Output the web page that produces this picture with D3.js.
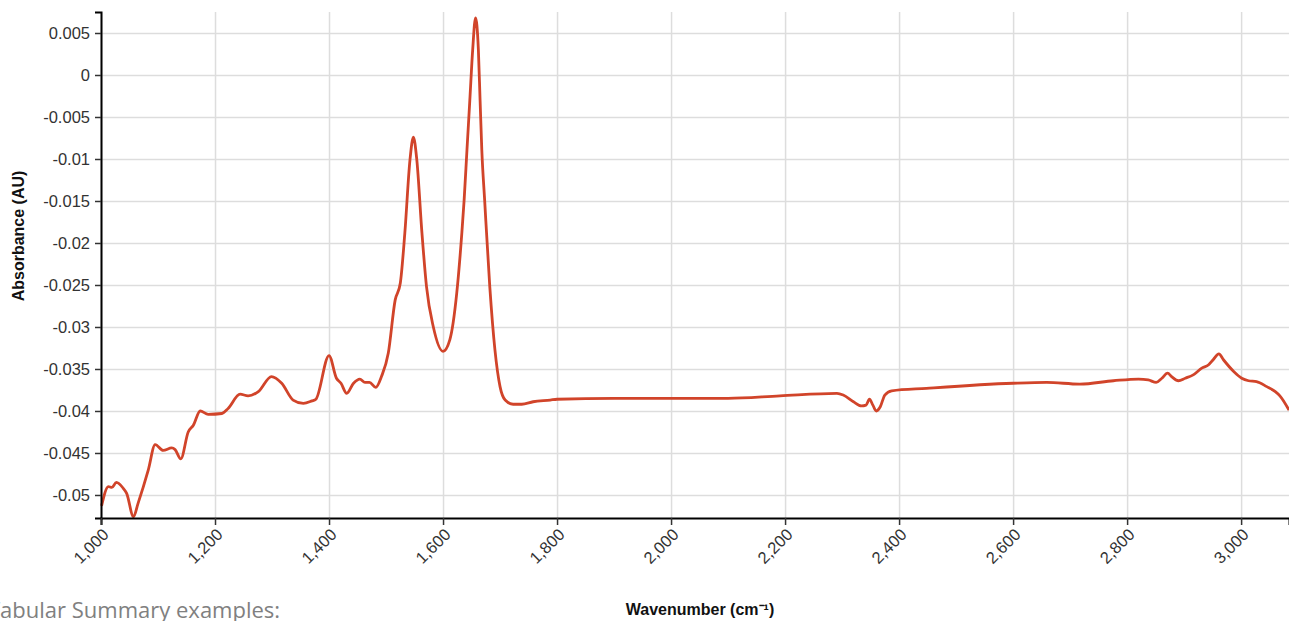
<!DOCTYPE html>
<html>
<head>
<meta charset="utf-8">
<script src="https://cdnjs.cloudflare.com/ajax/libs/d3/7.8.5/d3.min.js"></script>
<style>
  body { margin: 0; background: #fff; }
  svg { display: block; font-family: "Liberation Sans", Arial, sans-serif; }
  .grid line { stroke: #ddd; stroke-width: 1.5; }
  .grid .domain { display: none; }
  .axis .domain { stroke: #000; stroke-width: 2; }
  .axis .tick line { stroke: #333; stroke-width: 1.5; }
  .axis .tick text { fill: #333; font-size: 16.5px; }
  .line { fill: none; stroke: #d1442a; stroke-width: 2.8; }
  .title { font-weight: bold; font-size: 16px; fill: #111; }
  .note { font-family: "Open Sans", sans-serif; font-size: 22px; fill: #808080; }
</style>
</head>
<body>
<svg id="chart"></svg>
<script>
// 表示サイズ
var margin = { top: 12, right: 0, bottom: 103, left: 101 };
var size = { width: 1289, height: 621 };

// データ (波数 / 吸光度)
var wavenumber = [
  1001, 1013, 1019, 1027, 1039, 1045, 1057, 1065, 1083, 1095,
  1109, 1124, 1130, 1140, 1153, 1162, 1174, 1188, 1212, 1223,
  1244, 1258, 1276, 1299, 1317, 1337, 1355, 1370, 1377, 1400,
  1413, 1421, 1431, 1443, 1454, 1463, 1471, 1482, 1492, 1504,
  1516, 1525, 1533, 1542, 1548, 1554, 1563, 1571, 1583, 1600,
  1612, 1624, 1633, 1637, 1642, 1647, 1652, 1657, 1662, 1665,
  1668, 1673, 1682, 1691, 1700, 1709, 1723, 1738, 1758, 1788,
  1800, 1900, 2000, 2100, 2191, 2291, 2302, 2320, 2334, 2342,
  2348, 2354, 2360, 2367, 2375, 2387, 2448, 2600, 2659, 2717,
  2776, 2820, 2837, 2851, 2861, 2871, 2878, 2890, 2902, 2916,
  2931, 2943, 2951, 2961, 2969, 2987, 3001, 3013, 3027, 3045,
  3060, 3068, 3084
];
var absorbance = [
  -0.0513, -0.0490, -0.0491, -0.0485, -0.0492, -0.0498, -0.0526, -0.0510, -0.0470, -0.0440,
  -0.0447, -0.0444, -0.0446, -0.0457, -0.0425, -0.0417, -0.0400, -0.0404, -0.0403, -0.0397,
  -0.0380, -0.0382, -0.0377, -0.0359, -0.0367, -0.0387, -0.0391, -0.0388, -0.0386, -0.0334,
  -0.0361, -0.0367, -0.0379, -0.0367, -0.0362, -0.0366, -0.0366, -0.0372, -0.0359, -0.0331,
  -0.0268, -0.0248, -0.0188, -0.0101, -0.0074, -0.0101, -0.0188, -0.0252, -0.0300, -0.0329,
  -0.0315, -0.0260, -0.0188, -0.0149, -0.0089, -0.0030, 0.0030, 0.0068, 0.0030, -0.0030,
  -0.0089, -0.0149, -0.0252, -0.0327, -0.0371, -0.0387, -0.0392, -0.0392, -0.0389, -0.0387,
  -0.0386, -0.0385, -0.0385, -0.0385, -0.0382, -0.0379, -0.0381, -0.0389, -0.0394, -0.0393,
  -0.0386, -0.0393, -0.0400, -0.0395, -0.0381, -0.0376, -0.0373, -0.0367, -0.0366, -0.0368,
  -0.0364, -0.0362, -0.0363, -0.0366, -0.0361, -0.0355, -0.0359, -0.0364, -0.0361, -0.0357,
  -0.0349, -0.0345, -0.0339, -0.0332, -0.0339, -0.0353, -0.0361, -0.0364, -0.0365, -0.0371,
  -0.0377, -0.0382, -0.0399
];

// 目盛り
var xTicks = [1000, 1200, 1400, 1600, 1800, 2000, 2200, 2400, 2600, 2800, 3000];
var yTicks = [-0.05, -0.045, -0.04, -0.035, -0.03, -0.025, -0.02, -0.015, -0.01, -0.005, 0, 0.005];

var data = wavenumber.map(function(w, i){ return { w: w, v: absorbance[i] }; });

var innerW = size.width - margin.left - margin.right;
var innerH = size.height - margin.top - margin.bottom;

var root = d3.select("#chart")
  .attr("width", size.width)
  .attr("height", size.height);

var svg = root.append("g")
  .attr("transform", "translate(" + margin.left + "," + margin.top + ")");

var x = d3.scaleLinear()
  .domain([1000, 3084])
  .range([0, innerW]);

var y = d3.scaleLinear()
  .domain([-0.05274, 0.0075])
  .range([innerH, 0]);

var yFormat = function(d){ return String(+d.toFixed(3)); };

// グリッド
svg.append("g")
  .attr("class", "grid")
  .call(d3.axisLeft(y).tickValues(yTicks).tickSize(-innerW).tickFormat(""));

svg.append("g")
  .attr("class", "grid")
  .attr("transform", "translate(0," + innerH + ")")
  .call(d3.axisBottom(x).tickValues(xTicks).tickSize(-innerH).tickFormat(""));

// 線
var line = d3.line()
  .x(function(d){ return x(d.w); })
  .y(function(d){ return y(d.v); })
  .curve(d3.curveMonotoneX);

svg.append("path")
  .datum(data)
  .attr("class", "line")
  .attr("d", line);

// 軸
svg.append("g")
  .attr("class", "axis")
  .call(d3.axisLeft(y).tickValues(yTicks).tickFormat(yFormat).tickPadding(5));

svg.append("g")
  .attr("class", "axis")
  .attr("transform", "translate(0," + innerH + ")")
  .call(d3.axisBottom(x).tickValues(xTicks).tickFormat(d3.format(",")).tickSize(7))
  .selectAll("text")
    .attr("text-anchor", "end")
    .attr("dx", "-0.4em")
    .attr("dy", "0.5em")
    .attr("transform", "rotate(-45)");

// 軸ラベル
root.append("text")
  .attr("class", "title")
  .attr("transform", "translate(24,236) rotate(-90)")
  .attr("text-anchor", "middle")
  .text("Absorbance (AU)");

root.append("text")
  .attr("class", "title")
  .attr("x", 700)
  .attr("y", 615)
  .attr("text-anchor", "middle")
  .text("Wavenumber (cm⁻¹)");

root.append("text")
  .attr("class", "note")
  .attr("x", -12)
  .attr("y", 618)
  .text("Tabular Summary examples:");
</script>
</body>
</html>
